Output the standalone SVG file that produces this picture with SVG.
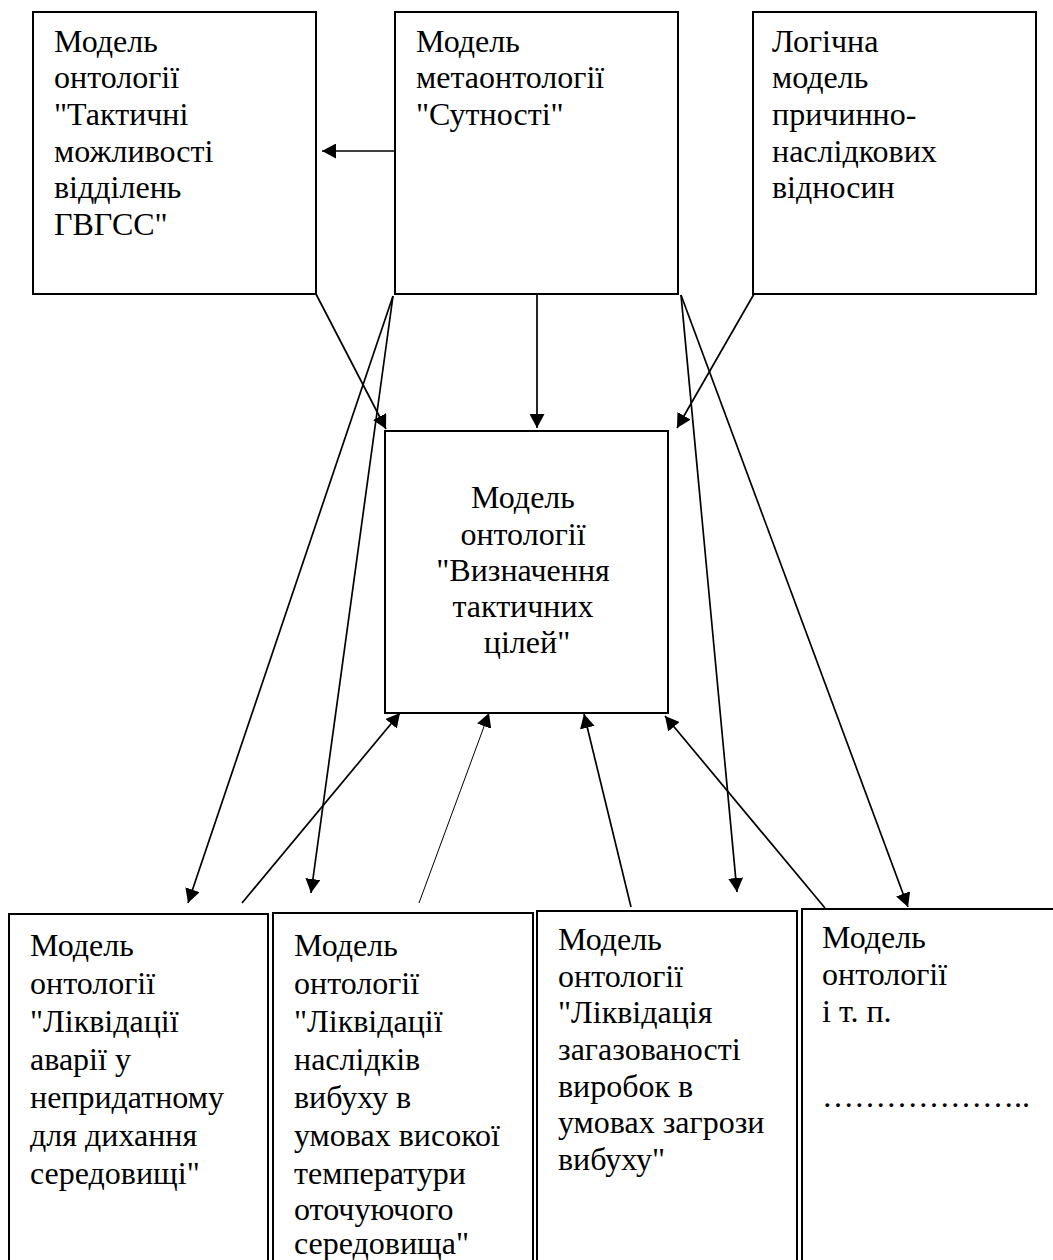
<svg xmlns="http://www.w3.org/2000/svg" width="1053" height="1260" viewBox="0 0 1053 1260">
  <style>
    .box { fill: #ffffff; stroke: #000000; stroke-width: 2; }
    .lbl { font-family: "Liberation Serif", "Times New Roman", serif; font-size: 32px; fill: #000000; }
    .mid { text-anchor: middle; }
    .edge { stroke: #000000; stroke-width: 1.7; fill: none; marker-end: url(#arrow); }
    .thin { stroke-width: 1; }
  </style>
  <defs>
    <marker id="arrow" viewBox="0 0 14 15" refX="14" refY="7.5" markerWidth="14" markerHeight="15" markerUnits="userSpaceOnUse" orient="auto">
      <path d="M0,0 L14,7.5 L0,15 z" fill="#000000"/>
    </marker>
  </defs>

  <rect x="0" y="0" width="1053" height="1260" fill="#ffffff"/>

  <!-- top row -->
  <g id="tactical-capabilities">
    <rect class="box" x="33" y="12" width="283" height="282"/>
    <text class="lbl">
      <tspan x="54" y="52">Модель</tspan>
      <tspan x="54" y="88">онтології</tspan>
      <tspan x="54" y="125">"Тактичні</tspan>
      <tspan x="54" y="162">можливості</tspan>
      <tspan x="54" y="198">відділень</tspan>
      <tspan x="54" y="235">ГВГСС"</tspan>
    </text>
  </g>

  <g id="meta-ontology">
    <rect class="box" x="395" y="12" width="283" height="282"/>
    <text class="lbl">
      <tspan x="416" y="52">Модель</tspan>
      <tspan x="416" y="88">метаонтології</tspan>
      <tspan x="416" y="125">"Сутності"</tspan>
    </text>
  </g>

  <g id="causal-model">
    <rect class="box" x="753" y="12" width="283" height="282"/>
    <text class="lbl">
      <tspan x="772" y="52">Логічна</tspan>
      <tspan x="772" y="88">модель</tspan>
      <tspan x="772" y="125">причинно-</tspan>
      <tspan x="772" y="162">наслідкових</tspan>
      <tspan x="772" y="198">відносин</tspan>
    </text>
  </g>

  <!-- centre -->
  <g id="tactical-goals">
    <rect class="box" x="385" y="431" width="283" height="282"/>
    <text class="lbl mid">
      <tspan x="527" y="508">Модель</tspan>
      <tspan x="527" y="545">онтології</tspan>
      <tspan x="527" y="581">"Визначення</tspan>
      <tspan x="527" y="617">тактичних</tspan>
      <tspan x="527" y="653">цілей"</tspan>
    </text>
  </g>

  <!-- bottom row: the boxes run on past the lower edge -->
  <g id="unbreathable-atmosphere">
    <path class="box" d="M9,1262 V914 H268 V1262"/>
    <text class="lbl">
      <tspan x="30" y="956">Модель</tspan>
      <tspan x="30" y="994">онтології</tspan>
      <tspan x="30" y="1032">"Ліквідації</tspan>
      <tspan x="30" y="1070">аварії у</tspan>
      <tspan x="30" y="1108">непридатному</tspan>
      <tspan x="30" y="1146">для дихання</tspan>
      <tspan x="30" y="1184">середовищі"</tspan>
    </text>
  </g>

  <g id="explosion-aftermath">
    <path class="box" d="M273,1262 V913 H533 V1262"/>
    <text class="lbl">
      <tspan x="294" y="956">Модель</tspan>
      <tspan x="294" y="994">онтології</tspan>
      <tspan x="294" y="1032">"Ліквідації</tspan>
      <tspan x="294" y="1070">наслідків</tspan>
      <tspan x="294" y="1108">вибуху в</tspan>
      <tspan x="294" y="1146">умовах високої</tspan>
      <tspan x="294" y="1184">температури</tspan>
      <tspan x="294" y="1220">оточуючого</tspan>
      <tspan x="294" y="1254">середовища"</tspan>
    </text>
  </g>

  <g id="gas-contamination">
    <path class="box" d="M537,1262 V911 H797 V1262"/>
    <text class="lbl">
      <tspan x="558" y="950">Модель</tspan>
      <tspan x="558" y="987">онтології</tspan>
      <tspan x="558" y="1023">"Ліквідація</tspan>
      <tspan x="558" y="1060">загазованості</tspan>
      <tspan x="558" y="1097">виробок в</tspan>
      <tspan x="558" y="1133">умовах загрози</tspan>
      <tspan x="558" y="1170">вибуху"</tspan>
    </text>
  </g>

  <g id="other-ontologies">
    <path class="box" d="M802,1262 V909 H1055"/>
    <text class="lbl">
      <tspan x="822" y="948">Модель</tspan>
      <tspan x="822" y="985">онтології</tspan>
      <tspan x="822" y="1022">і т. п.</tspan>
      <tspan x="822" y="1107">………………..</tspan>
    </text>
  </g>

  <!-- connectors -->
  <g id="connectors">
    <line class="edge" x1="395" y1="151" x2="322" y2="151"/>
    <line class="edge" x1="316" y1="294" x2="386" y2="429"/>
    <line class="edge" x1="537" y1="294" x2="537" y2="428"/>
    <line class="edge" x1="754" y1="294" x2="677" y2="428"/>
    <line class="edge" x1="393" y1="296" x2="188" y2="903"/>
    <line class="edge" x1="393" y1="296" x2="311" y2="893"/>
    <line class="edge" x1="681" y1="295" x2="737" y2="892"/>
    <line class="edge" x1="681" y1="295" x2="908" y2="907"/>
    <line class="edge" x1="242" y1="903" x2="400" y2="713"/>
    <line class="edge thin" x1="419" y1="903" x2="489" y2="713"/>
    <line class="edge" x1="631" y1="907" x2="584" y2="714"/>
    <line class="edge" x1="825" y1="908" x2="665" y2="716"/>
  </g>
</svg>
